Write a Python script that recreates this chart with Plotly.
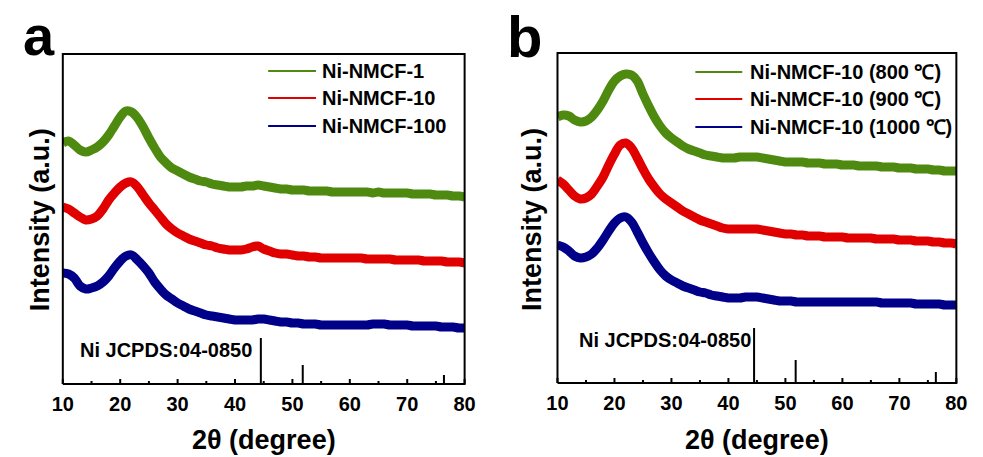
import plotly.graph_objects as go

W, H = 983, 457
two_theta = list(range(10, 81))

names_a = ["Ni-NMCF-1", "Ni-NMCF-10", "Ni-NMCF-100"]
names_b = ["Ni-NMCF-10 (800 \u2103)", "Ni-NMCF-10 (900 \u2103)", "Ni-NMCF-10 (1000 \u2103)"]
colors = ["#4f8a10", "#e00000", "#000088"]

a_green = [241,243,239,234,232,234,237,242,249,258,267,273,272,266,257,246,236,227,221,216,
           213,210,207,205,203,202,200,199,198,197,197,197,198,198,199,198,197,196,195,195,
           194,194,194,193,193,193,193,192,192,192,192,192,192,192,191,192,191,191,191,191,
           191,190,190,190,190,189,189,189,188,188,187]
a_red = [177,175,171,167,164,165,168,175,184,191,197,201,202,197,189,181,174,167,160,155,
         151,148,145,143,141,139,138,136,135,134,134,134,135,137,138,135,133,131,130,130,
         129,128,128,127,127,126,126,126,126,126,126,126,126,125,125,125,125,125,124,124,
         124,124,124,123,123,123,123,122,122,122,121]
a_blue = [111,110,106,98,95,96,98,102,108,116,123,128,129,124,118,111,102,95,89,85,
          81,78,75,73,71,69,68,67,66,65,64,64,64,64,65,65,64,63,62,62,
          61,61,60,60,60,59,59,59,59,59,59,59,59,59,60,60,60,59,59,59,
          59,58,58,58,58,58,57,57,57,56,56]

b_green = [266,268,267,263,261,262,266,273,282,293,302,307,309,308,302,289,277,266,257,250,
           245,241,237,234,232,230,228,227,226,225,225,225,226,226,226,226,225,224,223,222,
           221,221,221,221,220,220,220,219,219,219,218,218,218,217,217,217,217,216,216,216,
           215,215,215,214,214,214,213,213,212,212,212]
b_red = [203,199,193,187,184,185,189,197,206,218,229,238,240,235,225,214,204,196,189,184,
         180,176,172,169,166,163,161,159,157,155,154,154,154,154,154,154,153,152,151,150,
         149,149,148,148,147,147,147,146,146,146,146,145,145,145,145,145,144,144,144,144,
         143,143,143,142,142,142,141,141,140,140,139]
b_blue = [138,136,132,127,125,126,129,135,143,152,160,165,166,161,151,140,130,121,113,107,
          103,100,97,95,93,91,90,88,87,86,85,85,85,86,86,86,85,84,83,82,
          82,82,81,81,81,81,81,81,81,81,81,81,81,81,81,81,81,80,80,80,
          80,80,80,79,79,79,79,79,78,78,78]

ref_pos = [44.5, 51.8, 76.4]
ref_a = [46, 19, 9]
ref_b = [55, 23, 11]
ref_label = "Ni JCPDS:04-0850"

major_ticks = [10, 20, 30, 40, 50, 60, 70, 80]
minor_ticks = [15, 25, 35, 45, 55, 65, 75]
XMIN, XMAX = 10, 80

FONT = "Liberation Sans, Arial, sans-serif"

panels = [  # (left px, right px, top px, bottom px)
    (53, 464, 54, 384),
    (559, 967, 53, 383),
]

def yfrac(py):
    return 1 - py / H

fig = go.Figure()

def add_panel(xa, ya, series, names, refh):
    for vals, nm, col in zip(series, names, colors):
        fig.add_trace(go.Scatter(x=two_theta, y=vals, mode="lines", name=nm,
                                 line=dict(color=col, width=9, shape="spline"),
                                 xaxis=xa, yaxis=ya, showlegend=False))
    sx, sy = [], []
    for p, h in zip(ref_pos, refh):
        sx += [p, p, None]
        sy += [0, h, None]
    fig.add_trace(go.Scatter(x=sx, y=sy, mode="lines", line=dict(color="black", width=2),
                             xaxis=xa, yaxis=ya, showlegend=False))

add_panel("x", "y", [a_green, a_red, a_blue], names_a, ref_a)
add_panel("x2", "y2", [b_green, b_red, b_blue], names_b, ref_b)

# Frame and tick marks drawn as a trace on a full-page overlay axis (pixel coordinates)
fx, fy = [], []
for (l, r, t, b) in panels:
    fx += [l, r, r, l, l, None]
    fy += [b, b, t, t, b, None]
    for vals, ln in [(major_ticks, 5), (minor_ticks, 3)]:
        for v in vals:
            px = l + (v - XMIN) / (XMAX - XMIN) * (r - l)
            fx += [px, px, None]
            fy += [b, b - ln, None]
fig.add_trace(go.Scatter(x=fx, y=fy, mode="lines", line=dict(color="black", width=2),
                         xaxis="x3", yaxis="y3", showlegend=False, hoverinfo="skip"))

xcommon = dict(range=[XMIN, XMAX], tickvals=major_ticks, ticks="", showline=False,
               showgrid=False, zeroline=False, ticklabelstandoff=6,
               tickfont=dict(family=FONT, size=20, color="black", weight="bold"))
ycommon = dict(range=[0, 330], showticklabels=False, ticks="", showline=False,
               showgrid=False, zeroline=False)

(l1, r1, t1, b1), (l2, r2, t2, b2) = panels
fig.update_layout(
    width=W, height=H, margin=dict(l=0, r=0, t=0, b=0),
    paper_bgcolor="white", plot_bgcolor="rgba(0,0,0,0)",
    xaxis=dict(domain=[l1 / W, r1 / W], anchor="y", **xcommon),
    yaxis=dict(domain=[yfrac(b1), yfrac(t1)], anchor="x", **ycommon),
    xaxis2=dict(domain=[l2 / W, r2 / W], anchor="y2", **xcommon),
    yaxis2=dict(domain=[yfrac(b2), yfrac(t2)], anchor="x2", **ycommon),
    xaxis3=dict(domain=[0, 1], range=[0, W], visible=False, anchor="y3", fixedrange=True),
    yaxis3=dict(domain=[0, 1], range=[H, 0], visible=False, anchor="x3", fixedrange=True),
    showlegend=False,
)

def legend(names, x0, x1, xt, rows):
    for nm, col, py in zip(names, colors, rows):
        fig.add_shape(type="line", xref="paper", yref="paper", x0=x0 / W, x1=x1 / W,
                      y0=yfrac(py), y1=yfrac(py), line=dict(color=col, width=2))
        fig.add_annotation(text=nm, xref="paper", yref="paper", x=xt / W, y=yfrac(py),
                           xanchor="left", yanchor="middle", showarrow=False,
                           font=dict(family=FONT, size=20, color="black", weight="bold"))

legend(names_a, 263, 312, 316, [71, 98, 126])
legend(names_b, 700, 748, 754, [72, 99, 127])

fig.add_annotation(text=ref_label, xref="x", yref="y", x=12.6, y=34, xanchor="left", yanchor="middle",
                   showarrow=False, font=dict(family=FONT, size=20, color="black", weight="bold"))
fig.add_annotation(text=ref_label, xref="x2", yref="y2", x=13.4, y=43, xanchor="left", yanchor="middle",
                   showarrow=False, font=dict(family=FONT, size=20, color="black", weight="bold"))

for cx in [258.5, 763]:
    fig.add_annotation(text="2\u03b8 (degree)", xref="paper", yref="paper", x=cx / W, y=0,
                       xanchor="center", yanchor="bottom", showarrow=False,
                       font=dict(family=FONT, size=27, color="black", weight="bold"))
for cx in [30, 533]:
    fig.add_annotation(text="Intensity (a.u.)", xref="paper", yref="paper", x=cx / W, y=yfrac(220),
                       xanchor="center", yanchor="middle", showarrow=False, textangle=-90,
                       font=dict(family=FONT, size=27, color="black", weight="bold"))

fig.add_annotation(text="a", xref="paper", yref="paper", x=10 / W, y=yfrac(2), xanchor="left",
                   yanchor="top", showarrow=False,
                   font=dict(family=FONT, size=56, color="black", weight="bold"))
fig.add_annotation(text="b", xref="paper", yref="paper", x=505 / W, y=yfrac(2), xanchor="left",
                   yanchor="top", showarrow=False,
                   font=dict(family=FONT, size=58, color="black", weight="bold"))

fig.write_html("out.html")
